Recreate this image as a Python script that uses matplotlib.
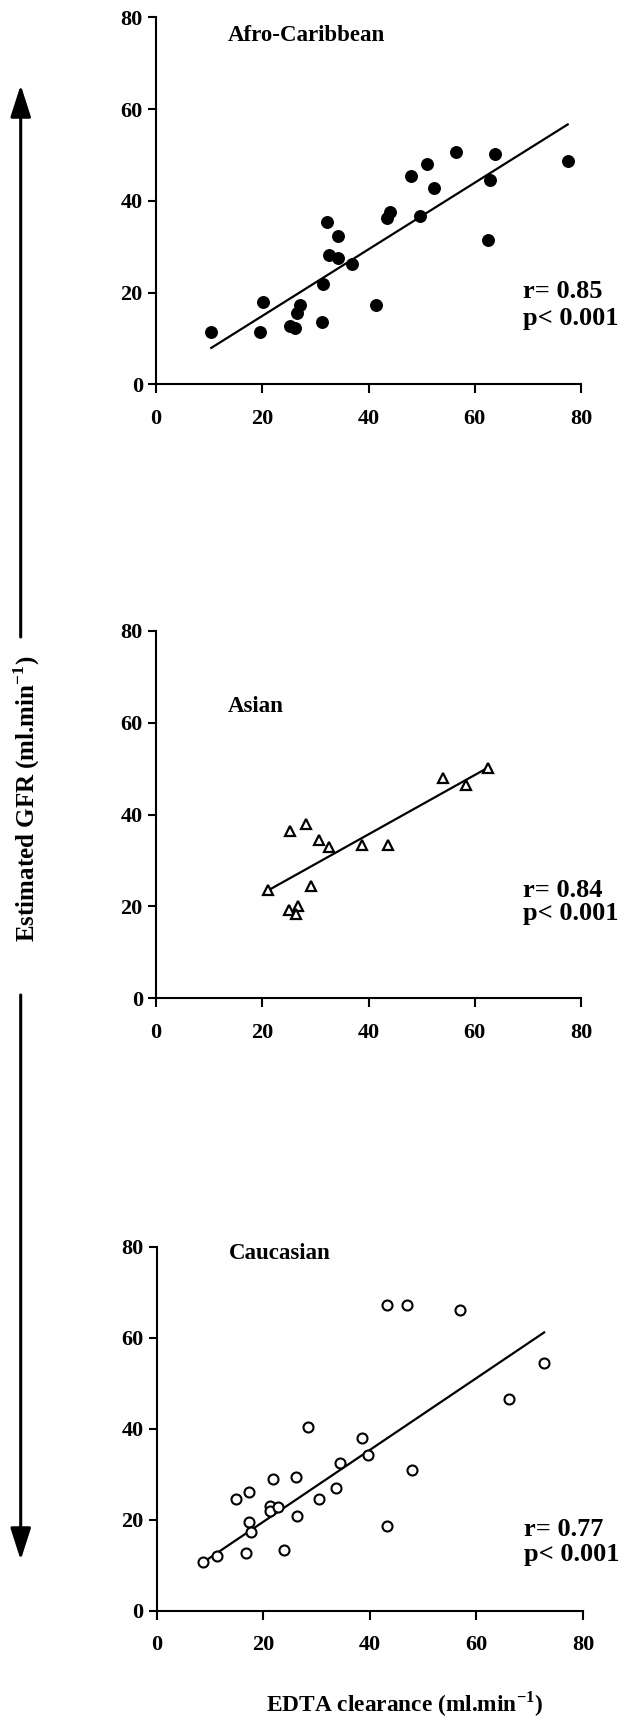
import matplotlib
matplotlib.use("Agg")
import matplotlib.pyplot as plt
import numpy as np

plt.rcParams['font.family'] = ['Liberation Serif', 'DejaVu Serif']
plt.rcParams['font.weight'] = 'bold'
plt.rcParams['mathtext.fontset'] = 'custom'
plt.rcParams['mathtext.rm'] = 'Liberation Serif:bold'
plt.rcParams['mathtext.bf'] = 'Liberation Serif:bold'

# ---------------- data ----------------
afro_x = [10.4, 19.6, 20.2, 25.3, 26.2, 26.5, 27.1, 31.2, 31.5, 32.2, 32.6, 34.2, 34.2,
          36.8, 41.4, 43.5, 44.0, 48.0, 49.7, 51.1, 52.4, 56.4, 62.5, 62.9, 63.9, 77.5]
afro_y = [11.3, 11.3, 18.0, 12.7, 12.2, 15.5, 17.2, 13.6, 21.8, 35.4, 28.1, 27.6, 32.3,
          26.3, 17.2, 36.2, 37.6, 45.4, 36.7, 48.0, 42.7, 50.7, 31.5, 44.5, 50.3, 48.7]
afro_fit = (0.726, 0.38)   # slope, intercept
afro_stats = ["r= 0.85", "p< 0.001"]

asian_x = [21.1, 25.2, 28.2, 30.7, 32.5, 29.2, 25.0, 26.8, 26.4, 38.8, 43.6, 54.0, 58.4, 62.4]
asian_y = [23.5, 36.5, 37.9, 34.4, 32.9, 24.4, 19.3, 20.2, 18.3, 33.4, 33.4, 48.0, 46.5, 50.2]
asian_fit = (0.646, 9.87)
asian_stats = ["r= 0.84", "p< 0.001"]

cauc_x = [8.6, 11.4, 14.9, 17.3, 17.3, 17.7, 16.75, 21.25, 21.25, 21.9, 22.7, 23.8, 26.1, 26.4,
          28.3, 30.4, 33.6, 34.4, 38.6, 39.6, 43.2, 43.2, 46.9, 47.9, 56.9, 66.1, 72.7]
cauc_y = [10.8, 12.1, 24.5, 26.2, 19.6, 17.3, 12.7, 23.1, 22.0, 28.9, 22.8, 13.5, 29.4, 20.9,
          40.4, 24.5, 27.1, 32.5, 38.1, 34.2, 18.7, 67.3, 67.3, 31.0, 66.0, 46.6, 54.5]
cauc_fit = (0.789, 3.81)
cauc_stats = ["r= 0.77", "p< 0.001"]

groups = ["Afro-Caribbean", "Asian", "Caucasian"]
ticks = [0, 20, 40, 60, 80]
xlabel = "EDTA clearance (ml.min$^{-1}$)"
ylabel = "Estimated GFR (ml.min$^{-1}$)"

# ---------------- figure ----------------
W, H = 643, 1716
fig = plt.figure(figsize=(W / 100, H / 100), dpi=100)

def px_axes(left, right, top, bottom):
    return fig.add_axes([left / W, 1 - bottom / H, (right - left) / W, (bottom - top) / H])

panels = [
    dict(box=(156, 581, 17.3, 384.3), x=afro_x, y=afro_y, fit=afro_fit, stats=afro_stats,
         marker='o', ms=8.3, mfc='black', mew=1.0, title=groups[0], ty=76.0,
         ry=18.8, py=12.9),
    dict(box=(156, 581, 631.0, 998.3), x=asian_x, y=asian_y, fit=asian_fit, stats=asian_stats,
         marker='^', ms=6.5, mfc='white', mew=1.6, title=groups[1], ty=63.5,
         ry=22.1, py=17.1),
    dict(box=(156.7, 583, 1246.7, 1611), x=cauc_x, y=cauc_y, fit=cauc_fit, stats=cauc_stats,
         marker='o', ms=7.2, mfc='white', mew=1.5, title=groups[2], ty=78.5,
         ry=16.5, py=11.0),
]

for p in panels:
    ax = px_axes(*p['box'])
    ax.set_xlim(0, 80)
    ax.set_ylim(0, 80)
    for s in ['top', 'right']:
        ax.spines[s].set_visible(False)
    for s in ['left', 'bottom']:
        ax.spines[s].set_linewidth(1.5)
    ax.set_xticks(ticks)
    ax.set_yticks(ticks)
    ax.tick_params(axis='x', direction='out', length=6.5, width=1.5, pad=11, labelsize=16)
    ax.tick_params(axis='y', direction='out', length=5.5, width=1.5, pad=4, labelsize=16)
    for lab in ax.get_xticklabels() + ax.get_yticklabels():
        lab.set_fontweight('bold')
    xs = np.array(p['x'])
    slope, icpt = p['fit']
    lx = np.array([xs.min(), xs.max()])
    ax.plot(lx, slope * lx + icpt, color='black', lw=1.6, zorder=2)
    ax.plot(p['x'], p['y'], linestyle='none', marker=p['marker'], ms=p['ms'],
            mfc=p['mfc'], mec='black', mew=p['mew'], zorder=3, clip_on=False)
    ax.text(13.5, p['ty'], p['title'], fontsize=16.5, fontweight='bold', ha='left', va='center')
    ax.text(69.0, p['ry'], p['stats'][0], fontsize=19, fontweight='bold', ha='left', va='baseline',
            clip_on=False)
    ax.text(69.0, p['py'], p['stats'][1], fontsize=19, fontweight='bold', ha='left', va='baseline',
            clip_on=False)

# x-axis label (shared, bottom)
fig.text(405 / W, 1 - 1704 / H, xlabel, fontsize=16.8, fontweight='bold', ha='center', va='center')

# y-axis label with arrows
fig.text(27 / W, 1 - 799 / H, ylabel, fontsize=18, fontweight='bold', rotation=90,
         ha='center', va='center')
arrow_x = 20.7 / W
fig.add_artist(matplotlib.patches.FancyArrowPatch(
    (arrow_x, 1 - 637 / H), (arrow_x, 1 - 85 / H), transform=fig.transFigure,
    arrowstyle='-|>,head_length=1.4,head_width=0.45', mutation_scale=14,
    color='black', lw=2.2, shrinkA=0, shrinkB=0))
fig.add_artist(matplotlib.patches.FancyArrowPatch(
    (arrow_x, 1 - 995 / H), (arrow_x, 1 - 1560 / H), transform=fig.transFigure,
    arrowstyle='-|>,head_length=1.4,head_width=0.45', mutation_scale=14,
    color='black', lw=2.2, shrinkA=0, shrinkB=0))

fig.savefig("out.png", dpi=100, facecolor='white')
